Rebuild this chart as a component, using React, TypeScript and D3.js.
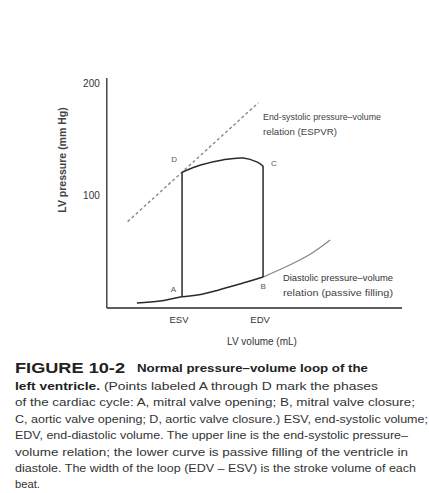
import React from "react";
import * as d3 from "d3";

// Left-ventricular pressure–volume loop (volume in mL, pressure in mm Hg)
const ESV = 65;
const EDV = 135;
const volumeTicks = [ESV, EDV];
const volumeTickLabels = ["ESV", "EDV"];
const pressureTicks = [100, 200];

// End-systolic pressure–volume relation (straight line)
const espvrVolume = [18, 131];
const espvrPressure = [77, 183];

// Ejection limb, from aortic valve opening (EDV) to closure (ESV)
const ejectionVolume = [135, 130, 118, 100, 81, 65];
const ejectionPressure = [126.5, 130, 133.7, 132, 127.5, 121];

// Passive filling (diastolic) curve
const fillingVolume = [26, 46, 65, 81, 115, 135];
const fillingPressure = [4.5, 6.2, 10, 12, 21.4, 27.6];
const fillingExtVolume = [135, 158, 176, 193];
const fillingExtPressure = [27.6, 38.3, 48.1, 60.6];

const pointLabels = ["A", "B", "C", "D"];

const captionLines = [
  "of the cardiac cycle: A, mitral valve opening; B, mitral valve closure;",
  "C, aortic valve opening; D, aortic valve closure.) ESV, end-systolic volume;",
  "EDV, end-diastolic volume. The upper line is the end-systolic pressure–",
  "volume relation; the lower curve is passive filling of the ventricle in",
  "diastole. The width of the loop (EDV – ESV) is the stroke volume of each",
  "beat.",
];
const captionWidths = [400, 413, 393, 393, 401, 25];

type Pt = { v: number; p: number };
const zip = (vs: number[], ps: number[]): Pt[] => vs.map((v, i) => ({ v, p: ps[i] }));

export default function App() {
  const W = 429;
  const H = 493;
  const x = d3.scaleLinear().domain([0, 255]).range([106.8, 402]);
  const y = d3.scaleLinear().domain([0, 205]).range([308, 78]);

  const line = d3
    .line<Pt>()
    .x((d) => x(d.v))
    .y((d) => y(d.p));
  const smooth = d3
    .line<Pt>()
    .x((d) => x(d.v))
    .y((d) => y(d.p))
    .curve(d3.curveCatmullRom.alpha(0.5));

  const espvr = zip(espvrVolume, espvrPressure);
  const ejection = zip(ejectionVolume, ejectionPressure);
  const filling = zip(fillingVolume, fillingPressure);
  const fillingExt = zip(fillingExtVolume, fillingExtPressure);

  const pAtESV = fillingPressure[fillingVolume.indexOf(ESV)];
  const pAtEDV = fillingPressure[fillingVolume.indexOf(EDV)];
  const pOpen = ejectionPressure[0];
  const pClose = ejectionPressure[ejectionPressure.length - 1];

  const ink = "#2a2a2a";
  const font = "'Liberation Sans', Arial, sans-serif";

  const captionTop = 386;
  const lineStep = 16.4;

  return (
    <svg
      width={W}
      height={H}
      style={{ position: "absolute", left: 0, top: 0, background: "#fff" }}
      fontFamily={font}
    >
      <rect width={W} height={H} fill="#fff" />

      {/* axes */}
      <line x1={x(0)} x2={x(0)} y1={y(205)} y2={y(0)} stroke={ink} strokeWidth={1.3} />
      <line x1={x(0)} x2={x(255)} y1={y(0)} y2={y(0)} stroke={ink} strokeWidth={1.3} />
      {pressureTicks.map((t) => (
        <text key={t} x={x(0) - 7} y={y(t)} dy="0.35em" textAnchor="end" fontSize={10} fill="#333">
          {t}
        </text>
      ))}
      {volumeTicks.map((t, i) => (
        <text key={t} x={x(t) - 3} y={y(0) + 15} textAnchor="middle" fontSize={9.5} fill="#333">
          {volumeTickLabels[i]}
        </text>
      ))}
      <text x={262} y={345} textAnchor="middle" fontSize={10} fill="#333">
        LV volume (mL)
      </text>
      <text
        transform={`translate(66,160) rotate(-90)`}
        textAnchor="middle"
        fontSize={10.5}
        fontWeight="bold"
        fill="#444"
      >
        LV pressure (mm Hg)
      </text>

      {/* end-systolic pressure–volume relation */}
      <path d={line(espvr) ?? ""} fill="none" stroke="#888" strokeWidth={1.4} strokeDasharray="3 2.5" />
      {/* diastolic filling curve beyond EDV */}
      <path d={smooth(fillingExt) ?? ""} fill="none" stroke="#888" strokeWidth={1.3} />

      {/* the loop */}
      <path d={smooth(filling) ?? ""} fill="none" stroke={ink} strokeWidth={1.5} />
      <path
        d={line([{ v: EDV, p: pAtEDV }, { v: EDV, p: pOpen }]) ?? ""}
        fill="none"
        stroke={ink}
        strokeWidth={1.5}
      />
      <path d={smooth(ejection) ?? ""} fill="none" stroke={ink} strokeWidth={1.5} />
      <path
        d={line([{ v: ESV, p: pClose }, { v: ESV, p: pAtESV }]) ?? ""}
        fill="none"
        stroke={ink}
        strokeWidth={1.5}
      />

      {/* loop corners */}
      <text x={x(ESV) - 6} y={y(pAtESV) - 5} textAnchor="end" fontSize={8} fill="#555">
        {pointLabels[0]}
      </text>
      <text x={x(EDV)} y={y(pAtEDV) + 12} textAnchor="middle" fontSize={8} fill="#555">
        {pointLabels[1]}
      </text>
      <text x={x(EDV) + 8} y={y(pOpen)} textAnchor="start" fontSize={8} fill="#555">
        {pointLabels[2]}
      </text>
      <text x={x(ESV) - 5} y={y(pClose) - 10} textAnchor="end" fontSize={8} fill="#555">
        {pointLabels[3]}
      </text>

      {/* curve labels */}
      <text x={263} y={120} fontSize={9} fill="#444" textLength={118} lengthAdjust="spacingAndGlyphs">
        End-systolic pressure–volume
      </text>
      <text x={263} y={135} fontSize={9} fill="#444" textLength={74} lengthAdjust="spacingAndGlyphs">
        relation (ESPVR)
      </text>
      <text x={283} y={281} fontSize={9} fill="#333" textLength={110} lengthAdjust="spacingAndGlyphs">
        Diastolic pressure–volume
      </text>
      <text x={283} y={296} fontSize={9} fill="#444" textLength={110} lengthAdjust="spacingAndGlyphs">
        relation (passive filling)
      </text>

      {/* caption */}
      <text x={15} y={373} fontSize={14} fontWeight="bold" fill="#222" textLength={110} lengthAdjust="spacingAndGlyphs">
        FIGURE 10-2
      </text>
      <text x={137} y={372} fontSize={11} fontWeight="bold" fill="#222" textLength={231} lengthAdjust="spacingAndGlyphs">
        Normal pressure–volume loop of the
      </text>
      <text x={15} y={captionTop + 4} fontSize={11} fontWeight="bold" fill="#222" textLength={85} lengthAdjust="spacingAndGlyphs">
        left ventricle.
      </text>
      <text x={104} y={captionTop + 4} fontSize={11} fill="#333" textLength={274} lengthAdjust="spacingAndGlyphs">
        (Points labeled A through D mark the phases
      </text>
      {captionLines.map((s, i) => (
        <text
          key={i}
          x={15}
          y={captionTop + 4 + (i + 1) * lineStep}
          fontSize={11}
          fill="#333"
          textLength={captionWidths[i]}
          lengthAdjust="spacingAndGlyphs"
        >
          {s}
        </text>
      ))}
    </svg>
  );
}
